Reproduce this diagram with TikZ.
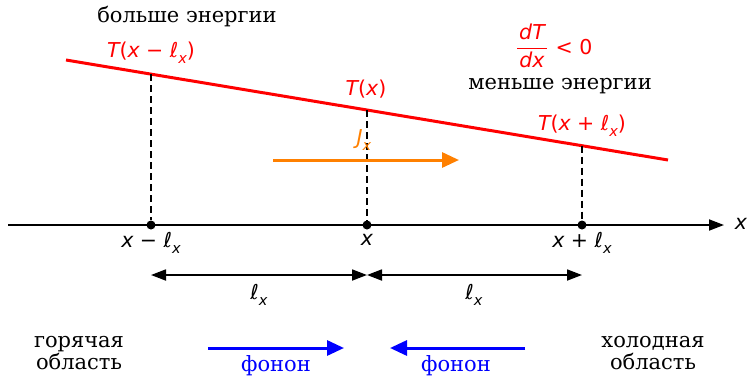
\documentclass[tikz,border=0pt]{standalone}
\usepackage{fontspec}
\setmainfont{DejaVu Serif}
\newfontfamily\mf{DejaVu Sans}
\usetikzlibrary{arrows.meta}
\newcommand{\vi}[1]{{\mf\itshape #1}}
\newcommand{\uo}[1]{{\mf #1}}
\newcommand{\sx}{\raisebox{-0.28em}{\fontsize{14.5}{14.5}\selectfont\vi{x}}}
\newcommand{\lx}{\vi{ℓ}\sx}
\tikzset{
  txt/.style={font=\fontsize{21}{22}\selectfont, inner sep=0pt},
  mth/.style={font=\fontsize{20.5}{22}\selectfont, inner sep=0pt},
  red txt/.style={mth, text=red},
  axisline/.style={line width=1.8pt, -{Triangle[length=15pt,width=11pt]}},
  dimarrow/.style={line width=1.8pt, {Triangle[length=15pt,width=11pt]}-{Triangle[length=15pt,width=11pt]}},
  dashline/.style={line width=1.8pt, dashed, dash pattern=on 7pt off 4pt},
  phonon/.style={line width=3pt, blue, -{Triangle[length=17pt,width=15pt]}},
  dot/.style={circle, fill=black, inner sep=0pt, minimum size=9pt},
}
\begin{document}
\begin{tikzpicture}[x=1pt,y=-1pt]
\path[use as bounding box] (0,0) rectangle (748,376);
% axis
\coordinate (a0) at (8,225);
\coordinate (a1) at (724,225);
\draw[axisline] (a0) -- (a1);
\node[mth] (xl) at (741,224) {\vi{x}};
% points
\node[dot] (p1) at (151,225) {};
\node[dot] (p2) at (367,225) {};
\node[dot] (p3) at (582,225) {};
\node[mth] (l1) at (151,243) {\vi{x} \uo{−} \lx};
\node[mth] (l2) at (367,240) {\vi{x}};
\node[mth] (l3) at (582,243) {\vi{x} \uo{+} \lx};
% red line
\coordinate (r0) at (66,60);
\coordinate (r1) at (668,160);
\draw[red, line width=3pt] (r0) -- (r1);
\coordinate (t1) at (151,74.1);
\coordinate (t2) at (367,110);
\coordinate (t3) at (582,145.7);
\draw[dashline] (t1) -- (p1);
\draw[dashline] (t2) -- (p2);
\draw[dashline] (t3) -- (p3);
\node[red txt] (T1) at (151,53) {\vi{T}\uo{(}\vi{x} \uo{−} \lx\uo{)}};
\node[red txt] (T2) at (366,89) {\vi{T}\uo{(}\vi{x}\uo{)}};
\node[red txt] (T3) at (582,126) {\vi{T}\uo{(}\vi{x} \uo{+} \lx\uo{)}};
% texts top
\node[txt] (more) at (187,17) {больше энергии};
\node[txt] (less) at (560,86) {меньше энергии};
\node[red txt] (dT) at (532,32) {\vi{dT}};
\node[red txt] (dx) at (532,60) {\vi{dx}};
\coordinate (f0) at (517,48);
\coordinate (f1) at (547,48);
\draw[red, line width=0.9pt] (f0) -- (f1);
\node[red txt] (lt) at (574,47) {\uo{< 0}};
% flux
\coordinate (j0) at (273,160);
\coordinate (j1) at (459,160);
\draw[orange, line width=3pt, -{Triangle[length=17pt,width=15pt]}] (j0) -- (j1);
\node[mth, text=orange] (J) at (364,140) {\vi{J}\sx};
% dimension arrows
\coordinate (d1) at (151,275);
\coordinate (d2) at (367,275);
\coordinate (d3) at (582,275);
\draw[dimarrow] (d1) -- (d2);
\draw[dimarrow] (d2) -- (d3);
\node[mth] (m1) at (259,295) {\lx};
\node[mth] (m2) at (474,295) {\lx};
% bottom
\node[txt, align=center] (hot) at (79,353) {горячая\\область};
\node[txt, align=center] (cold) at (653,353) {холодная\\область};
\coordinate (b0) at (208,348);
\coordinate (b1) at (344,348);
\coordinate (b2) at (525,348);
\coordinate (b3) at (390,348);
\draw[phonon] (b0) -- (b1);
\draw[phonon] (b2) -- (b3);
\node[txt, text=blue] (ph1) at (276,366) {фонон};
\node[txt, text=blue] (ph2) at (456,366) {фонон};
\end{tikzpicture}
\end{document}
